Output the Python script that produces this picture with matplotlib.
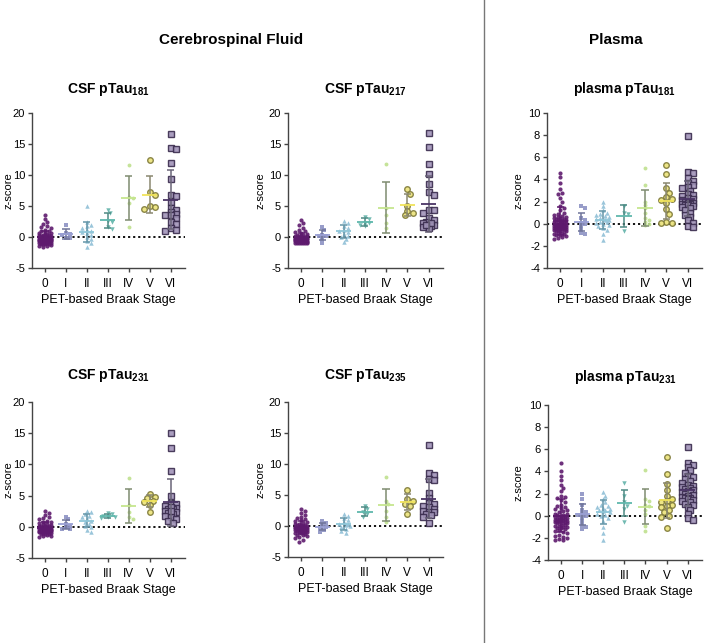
import numpy as np
import matplotlib.pyplot as plt

plt.rcParams['font.family'] = ['Liberation Sans', 'DejaVu Sans']
plt.rcParams['mathtext.default'] = 'regular'
plt.rcParams['axes.unicode_minus'] = False

stages = ['0', 'I', 'II', 'III', 'IV', 'V', 'VI']

# z-scores per Braak stage (0 .. VI)
csf_181 = [
    [3.6, 2.9, 2.4, 2.1, 1.8, 1.6, 1.4, 1.2, 1.0, 0.9, 0.8, 0.7, 0.6, 0.5, 0.4, 0.4, 0.3, 0.3, 0.2, 0.2,
     0.1, 0.1, 0.0, 0.0, 0.0, -0.1, -0.1, -0.1, -0.2, -0.2, -0.2, -0.3, -0.3, -0.3, -0.3, -0.4, -0.4,
     -0.4, -0.4, -0.5, -0.5, -0.5, -0.5, -0.6, -0.6, -0.6, -0.6, -0.7, -0.7, -0.7, -0.7, -0.8, -0.8,
     -0.8, -0.9, -0.9, -0.9, -1.0, -1.0, -1.1, -1.1, -1.2, -1.2, -1.3, -1.4, -1.5, -1.6],
    [2.0, 0.6, 0.5, 0.3, -0.1, -0.1],
    [5.0, 2.4, 2.0, 1.8, 1.5, 1.2, 1.0, 0.8, 0.6, 0.3, 0.0, -0.3, -0.6, -1.0, -1.6],
    [4.3, 3.8, 2.6, 1.6, 1.3, 2.5],
    [11.6, 1.6, 6.5, 5.5, 6.3],
    [12.5, 7.2, 6.8, 5.0, 4.8, 4.5],
    [16.6, 14.3, 14.2, 11.9, 9.4, 6.8, 6.6, 5.7, 4.7, 4.4, 4.0, 3.7, 3.6, 3.5, 3.0, 2.5, 2.1, 1.5,
     1.2, 1.0],
]
csf_217 = [
    [2.8, 2.3, 1.9, 1.5, 1.2, 1.0, 0.8, 0.6, 0.5, 0.4, 0.3, 0.2, 0.2, 0.1, 0.1, 0.0, 0.0, 0.0, -0.1,
     -0.1, -0.1, -0.2, -0.2, -0.2, -0.2, -0.3, -0.3, -0.3, -0.3, -0.4, -0.4, -0.4, -0.4, -0.5, -0.5,
     -0.5, -0.5, -0.5, -0.6, -0.6, -0.6, -0.6, -0.6, -0.7, -0.7, -0.7, -0.7, -0.7, -0.8, -0.8, -0.8,
     -0.8, -0.9, -0.9, -0.9, -0.9, -1.0, -1.0, -1.0],
    [1.6, 1.2, 0.3, 0.2, 0.1, -0.3, -0.9],
    [2.6, 2.2, 1.8, 1.5, 1.2, 1.0, 0.8, 0.5, 0.2, 0.0, -0.3, -0.8],
    [3.3, 2.9, 2.3, 2.0, 1.7, 2.2],
    [11.7, 4.6, 3.6, 2.3, 1.5],
    [7.7, 7.0, 5.0, 4.2, 3.8, 3.5],
    [16.8, 14.5, 11.7, 10.1, 8.6, 7.2, 6.7, 4.4, 4.3, 3.9, 3.0, 2.7, 2.4, 2.2, 2.0, 2.0, 1.8, 1.6,
     1.4, 2.3, 1.9],
]
plasma_181 = [
    [4.6, 4.2, 3.7, 3.1, 2.8, 2.7, 2.3, 2.0, 1.6, 1.4, 1.2, 1.0, 0.9, 0.8, 0.7, 0.6, 0.6, 0.5, 0.5,
     0.4, 0.4, 0.3, 0.3, 0.3, 0.2, 0.2, 0.2, 0.1, 0.1, 0.1, 0.0, 0.0, 0.0, 0.0, -0.1, -0.1, -0.1, -0.1,
     -0.2, -0.2, -0.2, -0.2, -0.3, -0.3, -0.3, -0.3, -0.4, -0.4, -0.4, -0.4, -0.5, -0.5, -0.5, -0.5,
     -0.6, -0.6, -0.6, -0.7, -0.7, -0.7, -0.8, -0.8, -0.9, -0.9, -1.0, -1.0, -1.1, -1.2, -1.3, -1.4],
    [1.6, 1.4, 0.5, 0.3, 0.1, 0.0, -0.2, -0.5, -0.8, -0.9],
    [2.0, 1.6, 1.2, 1.0, 0.9, 0.8, 0.7, 0.6, 0.5, 0.4, 0.3, 0.3, 0.2, 0.2, 0.1, 0.0, -0.1, -0.2,
     -0.4, -0.6, -0.9, -1.5],
    [1.6, 0.9, 1.0, -0.7],
    [5.0, 3.5, 2.0, 1.7, 1.4, 1.0, 0.5, 0.3, 0.2, 0.0, -0.1],
    [5.3, 4.5, 3.2, 2.8, 2.4, 2.2, 2.1, 1.9, 1.3, 0.9, 0.2, 0.1, 0.1],
    [7.9, 4.7, 4.6, 4.1, 3.9, 3.7, 3.5, 3.3, 3.2, 3.0, 2.7, 2.6, 2.5, 2.3, 2.2, 2.1, 2.0, 2.0, 1.9,
     1.9, 1.8, 1.8, 1.7, 1.7, 1.6, 1.5, 1.4, 1.2, 1.0, 0.8, 0.6, 0.3, 0.1, -0.2, -0.3],
]
csf_231 = [
    [2.5, 2.2, 1.9, 1.6, 1.4, 1.2, 1.0, 0.8, 0.7, 0.6, 0.5, 0.4, 0.3, 0.2, 0.2, 0.1, 0.1, 0.0, 0.0,
     -0.1, -0.1, -0.1, -0.2, -0.2, -0.2, -0.3, -0.3, -0.3, -0.4, -0.4, -0.4, -0.4, -0.5, -0.5, -0.5,
     -0.5, -0.6, -0.6, -0.6, -0.6, -0.7, -0.7, -0.7, -0.8, -0.8, -0.8, -0.9, -0.9, -1.0, -1.0, -1.1,
     -1.1, -1.2, -1.3, -1.4, -1.5, -1.7],
    [1.6, 1.2, 0.5, 0.2, -0.1, -0.3, -0.4],
    [2.5, 2.3, 2.0, 1.8, 1.5, 1.3, 1.0, 0.8, 0.5, 0.2, 0.0, -0.5, -0.9],
    [2.2, 2.0, 1.8, 1.6, 1.5, 1.4],
    [7.9, 3.5, 2.4, 1.5, 1.2],
    [5.3, 4.8, 4.6, 4.2, 3.5, 2.4, 4.0],
    [15.1, 12.7, 8.9, 5.0, 3.8, 3.6, 3.3, 3.0, 2.9, 2.8, 2.6, 2.4, 2.2, 2.0, 1.8, 1.5, 1.2, 0.9, 0.6,
     3.1, 2.5],
]
csf_235 = [
    [2.8, 2.4, 2.1, 1.8, 1.5, 1.3, 1.1, 0.9, 0.8, 0.6, 0.5, 0.4, 0.3, 0.2, 0.1, 0.1, 0.0, 0.0, -0.1,
     -0.1, -0.2, -0.2, -0.2, -0.3, -0.3, -0.3, -0.4, -0.4, -0.4, -0.5, -0.5, -0.5, -0.6, -0.6, -0.6,
     -0.7, -0.7, -0.7, -0.8, -0.8, -0.9, -0.9, -1.0, -1.0, -1.1, -1.2, -1.3, -1.4, -1.5, -1.6, -1.8,
     -2.0, -2.2, -2.5],
    [0.8, 0.5, 0.1, -0.2, -0.3, -0.6, -0.9],
    [1.9, 1.6, 1.3, 1.0, 0.6, 0.4, 0.3, 0.2, 0.0, -0.2, -0.5, -0.8, -1.2],
    [3.2, 2.7, 2.3, 1.9, 1.5],
    [7.9, 4.0, 3.5, 2.5, 1.5, 0.7],
    [5.8, 4.3, 4.0, 3.6, 3.3, 2.0],
    [13.1, 8.6, 8.2, 7.6, 7.4, 5.4, 4.5, 3.7, 3.5, 3.2, 3.0, 2.8, 2.5, 2.3, 2.2, 2.0, 1.8, 1.5, 0.5],
]
plasma_231 = [
    [4.8, 4.0, 3.6, 3.2, 2.8, 2.5, 2.2, 1.8, 1.7, 1.6, 1.4, 1.2, 1.0, 0.9, 0.8, 0.7, 0.6, 0.5, 0.4,
     0.3, 0.2, 0.2, 0.1, 0.1, 0.0, 0.0, -0.1, -0.1, -0.2, -0.2, -0.3, -0.3, -0.3, -0.4, -0.4, -0.4,
     -0.5, -0.5, -0.5, -0.6, -0.6, -0.6, -0.7, -0.7, -0.7, -0.8, -0.8, -0.9, -0.9, -1.0, -1.0, -1.1,
     -1.1, -1.2, -1.3, -1.4, -1.5, -1.6, -1.7, -1.8, -1.9, -2.0, -2.1, -2.2, -2.2],
    [2.0, 1.5, 1.0, 0.5, 0.3, 0.2, 0.1, 0.0, -0.2, -0.5, -0.8, -1.0, -1.2],
    [2.1, 1.8, 1.5, 1.2, 1.0, 0.9, 0.8, 0.7, 0.6, 0.5, 0.5, 0.4, 0.3, 0.2, 0.1, 0.0, -0.2, -0.5,
     -1.0, -1.6, -2.2],
    [3.0, 1.8, 1.2, 0.9, 0.6, -0.6],
    [4.1, 1.5, 1.3, 1.0, 0.9, 0.5, 0.2, -0.9, -1.4],
    [5.3, 3.8, 2.9, 2.3, 1.8, 1.5, 1.3, 1.2, 1.0, 0.9, 0.8, 0.5, 0.3, 0.0, -0.1, -1.1],
    [6.2, 4.8, 4.6, 4.4, 4.1, 3.9, 3.6, 3.5, 3.3, 3.1, 3.0, 2.8, 2.7, 2.6, 2.5, 2.4, 2.3, 2.2, 2.1,
     2.1, 2.0, 1.9, 1.8, 1.7, 1.6, 1.6, 1.5, 1.4, 1.3, 1.2, 1.1, 1.0, 0.8, 0.5, 0.2, -0.2, -0.4],
]

# styles per stage
face = ['#5e1a6e', '#8d92c4', '#8fbfd6', '#63b3aa', '#bfe08e', '#ebe37a', '#a194b8']
edge = ['#5e1a6e', '#8d92c4', '#8fbfd6', '#63b3aa', '#bfe08e', '#7f7a3a', '#3a2c4e']
markers = ['o', 's', '^', 'v', 'o', 'o', 's']
msize = [3.0, 2.8, 3.2, 3.2, 2.8, 4.0, 3.8]
mew = [0.0, 0.0, 0.0, 0.0, 0.0, 1.0, 1.0]
mean_col = ['#5e1a6e', '#9aa0d4', '#8ec6d8', '#5fb8ac', '#c6e68f', '#f1e45c', '#4b3566']
bar_col = ['#5e1a6e', '#6f7498', '#6596a8', '#4e8a84', '#7e8c70', '#8a8870', '#6a6478']

W, H = 706, 643
fig = plt.figure(figsize=(W / 100, H / 100), dpi=100)


def add_ax(l, t, r, b):
    return fig.add_axes([l / W, 1 - b / H, (r - l) / W, (b - t) / H])


def swarm(ax, x0, vals, diam):
    # simple beeswarm in pixel space, capped width (points may overlap)
    vals = np.asarray(vals, float)
    p = ax.transData.transform(np.column_stack([np.full(len(vals), x0), vals]))
    ys = p[:, 1]
    unit = ax.transData.transform([[1, 0]])[0, 0] - ax.transData.transform([[0, 0]])[0, 0]
    step = diam * 0.5
    maxoff = 0.32 * unit
    cands = [0.0]
    k = 1
    while k * step <= maxoff:
        cands += [k * step, -k * step]
        k += 1
    px, py = [], []
    offs = np.zeros(len(vals))
    for i in np.argsort(-vals, kind='stable'):
        best, bestd = 0.0, -1
        for c in cands:
            if px:
                d = np.min(np.hypot(np.array(px) - c, np.array(py) - ys[i]))
            else:
                d = 1e9
            if d >= diam * 0.8:
                best = c
                break
            if d > bestd:
                best, bestd = c, d
        px.append(best)
        py.append(ys[i])
        offs[i] = best / unit
    return x0 + offs


panels = [
    (csf_181, 'CSF pTau$_{181}$', (32, 113, 185, 268), (-5, 20), [-5, 0, 5, 10, 15, 20]),
    (csf_217, 'CSF pTau$_{217}$', (288, 113, 443, 268), (-5, 20), [-5, 0, 5, 10, 15, 20]),
    (plasma_181, 'plasma pTau$_{181}$', (547, 113, 702, 268), (-4, 10), [-4, -2, 0, 2, 4, 6, 8, 10]),
    (csf_231, 'CSF pTau$_{231}$', (32, 402, 185, 558), (-5, 20), [-5, 0, 5, 10, 15, 20]),
    (csf_235, 'CSF pTau$_{235}$', (288, 402, 443, 557), (-5, 20), [-5, 0, 5, 10, 15, 20]),
    (plasma_231, 'plasma pTau$_{231}$', (548, 405, 702, 560), (-4, 10), [-4, -2, 0, 2, 4, 6, 8, 10]),
]
title_y = [89, 89, 89, 375, 375, 377]
ylabel_x = [13.5, 265, 524, 13.5, 265, 524]  # right edge of rotated label, px

axcol = '#444444'
for n, (data, title, box, ylim, yticks) in enumerate(panels):
    ax = add_ax(*box)
    ax.set_xlim(-0.62, 6.68)
    ax.set_ylim(*ylim)
    ax.axhline(0, color='black', lw=1.3, ls=(0, (1.2, 1.6)), zorder=1)
    for i, vals in enumerate(data):
        xs = swarm(ax, i, vals, msize[i] * 1.39)
        ax.plot(xs, vals, ls='none', marker=markers[i], ms=msize[i], mfc=face[i],
                mec=edge[i], mew=mew[i], alpha=0.9, zorder=3)
        m, s = np.mean(vals), np.std(vals, ddof=1)
        ax.vlines(i, m - s, m + s, color=bar_col[i], lw=1.1, zorder=4)
        ax.hlines([m - s, m + s], i - 0.17, i + 0.17, color=bar_col[i], lw=1.1, zorder=4)
        ax.hlines(m, i - 0.36, i + 0.36, color=mean_col[i], lw=1.3, zorder=5)
    ax.set_xticks(range(len(stages)))
    ax.set_xticklabels(stages)
    ax.set_yticks(yticks)
    for sp in ['top', 'right']:
        ax.spines[sp].set_visible(False)
    for sp in ['left', 'bottom']:
        ax.spines[sp].set_color(axcol)
        ax.spines[sp].set_linewidth(1.0)
    ax.tick_params(colors=axcol, labelcolor='black', labelsize=8, length=3, width=1.0, pad=2)
    ax.tick_params(axis='x', labelsize=8.5, pad=4)
    ax.set_ylabel('z-score', fontsize=8)
    ax.yaxis.set_label_coords((ylabel_x[n] - box[0]) / (box[2] - box[0]), 0.5)
    ax.set_xlabel('PET-based Braak Stage', fontsize=9, labelpad=3)
    cx = (box[0] + box[2]) / 2
    fig.text(cx / W, 1 - title_y[n] / H, title, ha='center', va='center',
             fontsize=10, fontweight='bold')

fig.text(231 / W, 1 - 40 / H, 'Cerebrospinal Fluid', ha='center', va='center',
         fontsize=11, fontweight='bold')
fig.text(616 / W, 1 - 40 / H, 'Plasma', ha='center', va='center',
         fontsize=11, fontweight='bold')
fig.add_artist(plt.Line2D([484 / W, 484 / W], [0, 1], color='#777777', lw=1.0))

fig.savefig('out.png', dpi=100)
